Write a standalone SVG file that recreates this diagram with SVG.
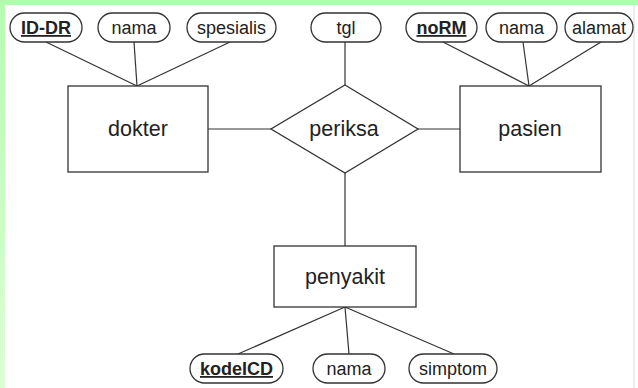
<svg xmlns="http://www.w3.org/2000/svg" width="638" height="388" viewBox="0 0 638 388">
<defs>
<linearGradient id="lg" x1="0" y1="0" x2="0" y2="1">
<stop offset="0" stop-color="#b4fcb0"/>
<stop offset="1" stop-color="#dcffd4"/>
</linearGradient>
</defs>
<style>
.attr{fill:#fff;stroke:#333;stroke-width:1.3}
.ent{fill:#fff;stroke:#333;stroke-width:1.3}
.lbl{font-family:"Liberation Sans",Arial,sans-serif;font-size:18px;fill:#222;text-anchor:middle}
.key{font-weight:bold;text-decoration:underline}
.big{font-family:"Liberation Sans",Arial,sans-serif;font-size:21.5px;fill:#222;text-anchor:middle}
.ln{stroke:#333;stroke-width:1.2;fill:none}
</style>
<rect width="638" height="388" fill="#fff"/>
<rect x="0" y="0" width="5" height="388" fill="url(#lg)"/>
<rect x="0" y="0" width="638" height="5" fill="#b0fcac"/>
<rect x="633" y="5" width="2" height="383" fill="#ececec"/>
<g id="connectors">
<line class="ln" x1="46" y1="42" x2="137" y2="86"/>
<line class="ln" x1="134" y1="42" x2="137" y2="86"/>
<line class="ln" x1="230" y1="42" x2="137" y2="86"/>
<line class="ln" x1="443" y1="42" x2="529" y2="86"/>
<line class="ln" x1="523" y1="42" x2="529" y2="86"/>
<line class="ln" x1="601" y1="42" x2="529" y2="86"/>
<line class="ln" x1="345" y1="42" x2="345" y2="85"/>
<line class="ln" x1="208" y1="129" x2="271" y2="129"/>
<line class="ln" x1="418" y1="129" x2="460" y2="129"/>
<line class="ln" x1="345" y1="173" x2="345" y2="246"/>
<line class="ln" x1="345" y1="307" x2="238" y2="354"/>
<line class="ln" x1="345" y1="307" x2="349" y2="354"/>
<line class="ln" x1="345" y1="307" x2="454" y2="354"/>
</g>
<g id="attr-id-dr"><rect class="attr" x="10" y="13" width="72" height="29" rx="14.5"/><text class="lbl key" x="46" y="34">ID-DR</text></g>
<g id="attr-nama-dokter"><rect class="attr" x="98" y="13" width="72" height="29" rx="14.5"/><text class="lbl" x="134" y="34">nama</text></g>
<g id="attr-spesialis"><rect class="attr" x="187" y="13" width="89" height="29" rx="14.5"/><text class="lbl" x="231.5" y="34">spesialis</text></g>
<g id="attr-tgl"><rect class="attr" x="311" y="13" width="70" height="29" rx="14.5"/><text class="lbl" x="346" y="34">tgl</text></g>
<g id="attr-norm"><rect class="attr" x="406" y="13" width="71" height="29" rx="14.5"/><text class="lbl key" x="441.5" y="34">noRM</text></g>
<g id="attr-nama-pasien"><rect class="attr" x="486" y="13" width="71" height="29" rx="14.5"/><text class="lbl" x="521.5" y="34">nama</text></g>
<g id="attr-alamat"><rect class="attr" x="565" y="13" width="68" height="29" rx="14.5"/><text class="lbl" x="599" y="34">alamat</text></g>
<g id="dokter"><rect class="ent" x="68" y="86" width="140" height="86"/><text class="big" x="138" y="136">dokter</text></g>
<g id="periksa"><polygon class="ent" points="345,85 418,129 345,173 271,129"/><text class="big" x="344" y="136">periksa</text></g>
<g id="pasien"><rect class="ent" x="460" y="86" width="141" height="86"/><text class="big" x="530" y="136">pasien</text></g>
<g id="penyakit"><rect class="ent" x="274" y="246" width="142" height="61"/><text class="big" x="345" y="284">penyakit</text></g>
<g id="attr-kodeicd"><rect class="attr" x="190" y="354" width="93" height="29" rx="14.5"/><text class="lbl key" x="236.5" y="375">kodeICD</text></g>
<g id="attr-nama-penyakit"><rect class="attr" x="313" y="354" width="72" height="29" rx="14.5"/><text class="lbl" x="349" y="375">nama</text></g>
<g id="attr-simptom"><rect class="attr" x="409" y="354" width="88" height="29" rx="14.5"/><text class="lbl" x="453" y="375">simptom</text></g>
</svg>
